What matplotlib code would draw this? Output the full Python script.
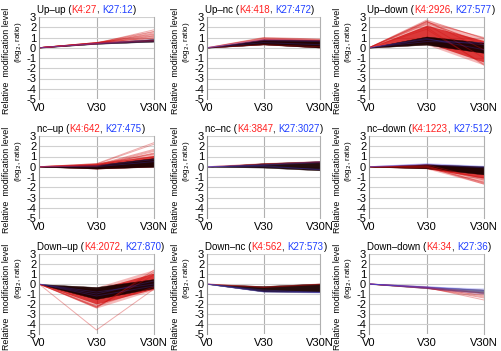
import matplotlib
matplotlib.use("Agg")
from matplotlib import pyplot as plt
from matplotlib import rcParams
import numpy as np

rcParams['font.family'] = ['Liberation Sans', 'DejaVu Sans']
rcParams['axes.unicode_minus'] = False

# Panel titles and cluster sizes
titles = ["Up\u2013up", "Up\u2013nc", "Up\u2013down",
          "nc\u2013up", "nc\u2013nc", "nc\u2013down",
          "Down\u2013up", "Down\u2013nc", "Down\u2013down"]
k4_n = [27, 418, 2926, 642, 3847, 1223, 2072, 562, 34]
k27_n = [12, 472, 577, 475, 3027, 512, 870, 573, 36]

stages = ["V0", "V30", "V30N"]

# Dense cores: [V30 low, V30 high, V30N low, V30N high] (log2 ratio)
core = [[0.38, 0.48, 0.6, 0.85],
        [0.32, 0.78, 0.02, 0.75],
        [0.30, 1.10, -0.5, 0.5],
        [-0.18, 0.18, 0.0, 0.85],
        [-0.08, 0.35, -0.35, 0.55],
        [-0.15, 0.25, -0.75, 0.05],
        [-1.5, -0.3, -0.4, 0.5],
        [-0.75, -0.2, -0.8, 0.05],
        [-0.42, -0.28, -0.9, -0.55]]

# Red (K4) bands: faint outer and dense inner, same layout as core
red_outer = [None,
             [0.30, 1.0, 0.0, 0.88],
             [0.30, 2.7, -1.7, 1.0],
             [-0.2, 0.35, 0.0, 1.4],
             None,
             [-0.2, 0.3, -1.7, 0.0],
             [-2.4, -0.3, -0.6, 1.45],
             None,
             None]
red_inner = [None,
             [0.32, 0.9, 0.0, 0.8],
             [0.5, 2.2, -1.4, 0.7],
             [-0.2, 0.3, 0.0, 1.1],
             None,
             [-0.18, 0.25, -1.1, 0.0],
             [-2.0, -0.5, -0.5, 1.1],
             None,
             None]

# Individual red (K4) lines: (V30, V30N)
red_lines = [
    [(0.45, 1.75), (0.5, 1.6), (0.4, 1.45), (0.45, 1.3), (0.5, 1.2),
     (0.4, 1.1), (0.45, 1.0), (0.5, 0.95), (0.4, 0.9), (0.45, 1.55),
     (0.5, 1.35), (0.42, 0.75), (0.48, 0.7), (0.4, 0.65), (0.45, 1.15)],
    [(1.0, 0.85), (0.95, 0.8), (0.9, 0.7), (0.3, 0.1)],
    [(2.7, 0.9), (2.5, 1.0), (2.6, -0.2), (2.3, -1.0), (2.0, -1.7),
     (1.8, -1.6), (2.4, 0.5), (2.55, 0.3)],
    [(0.3, 2.35), (0.25, 2.2), (0.2, 1.7), (0.15, 1.6), (0.1, 1.5),
     (0.2, 1.25), (0.3, 1.0), (0.05, 1.35)],
    [(0.3, 0.5), (0.25, 0.45)],
    [(0.0, -1.7), (0.1, -1.6), (-0.1, -1.5), (0.05, -1.3), (0.2, -1.2),
     (-0.05, -1.1)],
    [(-4.6, -0.5), (-2.4, 1.4), (-2.3, 0.9), (-2.2, -0.3), (-2.3, 1.2)],
    [(-0.3, 0.0), (-0.35, -0.05)],
    [(-0.35, -1.6), (-0.4, -1.4), (-0.3, -1.2), (-0.35, -1.0), (-0.3, -0.9),
     (-0.4, -1.3), (-0.45, -1.1)]]

# Individual blue (K27) lines: (V30, V30N)
blue_lines = [
    [(0.4, 0.7), (0.45, 0.8), (0.38, 0.6)],
    [(0.7, 0.6), (0.8, 0.7), (0.5, 0.3)],
    [(0.8, 0.3), (0.6, 0.5), (0.9, -0.2)],
    [(0.0, 0.5), (0.1, 0.7)],
    [(0.1, -0.3), (0.2, 0.5), (0.15, 0.4), (0.0, -0.25)],
    [(0.3, 0.05), (0.25, 0.0), (0.2, -0.1)],
    [(-1.0, 0.3), (-0.8, 0.0), (-1.2, -0.2)],
    [(-0.8, -0.85), (-0.78, -0.9), (-0.7, -0.8), (-0.6, -0.85)],
    [(-0.35, -0.6), (-0.3, -0.7), (-0.4, -0.8), (-0.3, -0.5), (-0.35, -0.9),
     (-0.25, -0.65), (-0.45, -1.0)]]

W, H = 501, 351
fig = plt.figure(figsize=(W / 100, H / 100), dpi=100)

col_left = [39, 207, 369]
col_width = [115, 113, 115]
row_top = [17, 136, 254]
row_bottom = [99, 218, 334]

x = np.arange(len(stages))
axes = []
for i in range(9):
    r, c = divmod(i, 3)
    l, w = col_left[c], col_width[c]
    t, b = row_top[r], row_bottom[r]
    ax = fig.add_axes([l / W, 1 - b / H, w / W, (b - t) / H])
    axes.append(ax)

    ax.set_xlim(0, 2)
    ax.set_ylim(-5, 3)
    ax.set_xticks(x)
    ax.set_xticklabels(stages, fontsize=9)
    ax.set_yticks(np.arange(-5, 4))
    ax.tick_params(length=0, pad=2, labelsize=8)
    ax.tick_params(axis='x', pad=3)
    ax.grid(axis='y', color='#d0d0d0', linewidth=0.8)
    ax.axvline(1, color='#b0b0b0', linewidth=0.8, zorder=0)
    for s in ['top', 'bottom']:
        ax.spines[s].set_visible(False)
    ax.spines['left'].set_color('#909090')
    ax.spines['right'].set_color('#b0b0b0')
    ax.set_axisbelow(True)

    if red_outer[i] is not None:
        a, bb, cc, d = red_outer[i]
        ax.fill_between(x, [0, a, cc], [0, bb, d], color='#e02020',
                        alpha=0.3, linewidth=0)
    if red_inner[i] is not None:
        a, bb, cc, d = red_inner[i]
        ax.fill_between(x, [0, a, cc], [0, bb, d], color='#d00000',
                        alpha=0.7, linewidth=0)
    for v30, v30n in red_lines[i]:
        ax.plot(x, [0, v30, v30n], color='#d01010', alpha=0.35, linewidth=0.7)
    for v30, v30n in blue_lines[i]:
        ax.plot(x, [0, v30, v30n], color='#4040e0', alpha=0.25, linewidth=0.7)
    a, bb, cc, d = core[i]
    core_alpha = 0.5 if i == 8 else 0.95
    ax.fill_between(x, [0, a, cc], [0, bb, d], color='#1a0000',
                    alpha=core_alpha, linewidth=0.3)

    # y labels
    yc = (t + b) / 2
    fig.text((l - 32) / W, 1 - (yc + 3) / H, "Relative  modification level",
             rotation=90, ha='center', va='center', fontsize=6.4)
    fig.text((l - 21) / W, 1 - (yc - 16) / H, "(log$_2$, ratio)",
             rotation=90, ha='center', va='center', fontsize=5.8)

# multi-coloured titles, each piece placed after the width of its prefix
fig.canvas.draw()
renderer = fig.canvas.get_renderer()
for i, ax in enumerate(axes):
    r, c = divmod(i, 3)
    x0 = col_left[c] - 2
    py = row_top[r] - 4
    parts = [(titles[i] + " (", 'black'), ("K4:%d" % k4_n[i], '#ff2020'),
             (", ", 'black'), ("K27:%d" % k27_n[i], '#2040ff'), (")", 'black')]
    prefix = ""
    for txt, col in parts:
        dx = 0
        if prefix:
            probe = fig.text(0, 0, prefix + "|", fontsize=7)
            bar = fig.text(0, 0, "|", fontsize=7)
            dx = (probe.get_window_extent(renderer).width
                  - bar.get_window_extent(renderer).width)
            probe.remove()
            bar.remove()
        fig.text((x0 + dx) / W, 1 - py / H, txt, color=col, fontsize=7,
                 ha='left', va='baseline')
        prefix += txt

fig.savefig("out.png", dpi=100)
